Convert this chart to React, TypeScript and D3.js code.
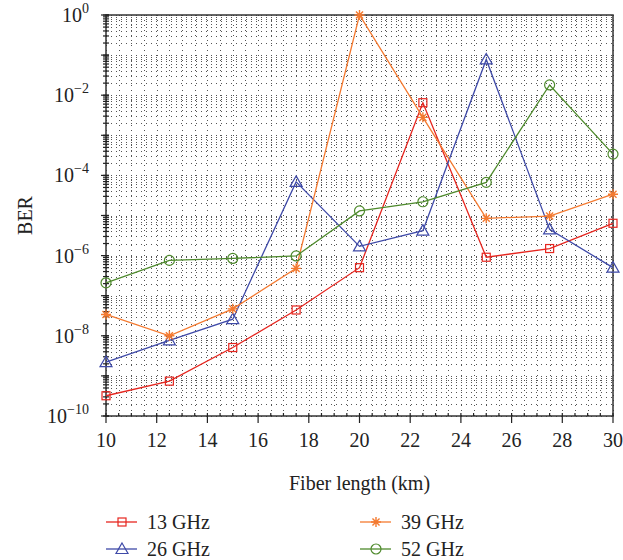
import React from 'react';
import * as d3 from 'd3';

// Data
const fiberKm = [10, 12.5, 15, 17.5, 20, 22.5, 25, 27.5, 30];
const ber13 = [3.2e-10, 7.4e-10, 5.1e-9, 4.4e-8, 5e-7, 6.5e-3, 9.1e-7, 1.5e-6, 6.4e-6];
const ber26 = [2.2e-9, 7.7e-9, 2.6e-8, 6.9e-5, 1.7e-6, 4.2e-6, 7.8e-2, 4.5e-6, 5e-7];
const ber39 = [3.4e-8, 1e-8, 4.7e-8, 4.8e-7, 1, 2.8e-3, 8.5e-6, 9.7e-6, 3.4e-5];
const ber52 = [2.1e-7, 7.6e-7, 8.5e-7, 9.8e-7, 1.3e-5, 2.2e-5, 6.7e-5, 1.8e-2, 3.4e-4];
const xTicks = [10, 12, 14, 16, 18, 20, 22, 24, 26, 28, 30];
const yExponents = [0, -2, -4, -6, -8, -10];

type Marker = 'square' | 'triangle' | 'star' | 'circle';
const series: { name: string; values: number[]; color: string; marker: Marker }[] = [
  { name: '13 GHz', values: ber13, color: '#e6261f', marker: 'square' },
  { name: '26 GHz', values: ber26, color: '#3f4aa8', marker: 'triangle' },
  { name: '39 GHz', values: ber39, color: '#f47a30', marker: 'star' },
  { name: '52 GHz', values: ber52, color: '#4e8a2c', marker: 'circle' },
];

const W = 623;
const H = 560;
const margin = { left: 106, right: 10, top: 15, bottom: 144 };
const font = '"Liberation Serif", "DejaVu Serif", serif';

const MarkerShape: React.FC<{ type: Marker; x: number; y: number; color: string }> = ({ type, x, y, color }) => {
  const common = { fill: 'none', stroke: color, strokeWidth: 1.2 };
  if (type === 'square') return <rect x={x - 4} y={y - 4} width={8} height={8} {...common} />;
  if (type === 'circle') return <circle cx={x} cy={y} r={5} {...common} />;
  if (type === 'triangle') {
    const s = 6;
    return <path d={`M${x},${y - s}L${x + s},${y + s * 0.75}L${x - s},${y + s * 0.75}Z`} {...common} />;
  }
  const r = 5;
  const d = [0, 45, 90, 135]
    .map(a => {
      const t = (a * Math.PI) / 180;
      return `M${x - r * Math.cos(t)},${y - r * Math.sin(t)}L${x + r * Math.cos(t)},${y + r * Math.sin(t)}`;
    })
    .join('');
  return <path d={d} stroke={color} strokeWidth={1.4} fill="none" />;
};

const App: React.FC = () => {
  const x = d3.scaleLinear().domain([10, 30]).range([margin.left, W - margin.right]);
  const y = d3.scaleLog().domain([1e-10, 1]).range([H - margin.bottom, margin.top]);

  const [x0, x1] = x.range();
  const [y0, y1] = y.range();

  const minorX = d3.range(10, 30.01, 0.5);
  const minorY: number[] = [];
  for (let e = -10; e < 0; e++) for (let m = 1; m < 10; m++) minorY.push(m * Math.pow(10, e));
  minorY.push(1);

  const line = d3
    .line<number>()
    .x((_, i) => x(fiberKm[i]))
    .y(d => y(d));

  return (
    <svg width={W} height={H} style={{ display: 'block', position: 'absolute', left: 0, top: 0 }} fontFamily={font}>
      <rect width={W} height={H} fill="#fff" />
      {/* grid */}
      <g stroke="#555" strokeWidth={1} strokeDasharray="1 4" shapeRendering="crispEdges">
        {minorX.map(v => (
          <line key={'gx' + v} x1={Math.round(x(v))} x2={Math.round(x(v))} y1={y0} y2={y1} />
        ))}
        {minorY.map(v => (
          <line key={'gy' + v} x1={x0} x2={x1} y1={Math.round(y(v))} y2={Math.round(y(v))} />
        ))}
      </g>
      {/* frame */}
      <rect x={x0} y={y1} width={x1 - x0} height={y0 - y1} fill="none" stroke="#333" strokeWidth={1.5} />
      {/* ticks */}
      <g stroke="#222" strokeWidth={1.2}>
        {minorX.map(v => (
          <line key={'tx' + v} x1={x(v)} x2={x(v)} y1={y0} y2={y0 - 3} />
        ))}
        {xTicks.map(v => (
          <line key={'TX' + v} x1={x(v)} x2={x(v)} y1={y0} y2={y0 + 7} />
        ))}
        {minorY.map(v => (
          <line key={'ty' + v} x1={x0 - 3} x2={x0 + 3} y1={y(v)} y2={y(v)} />
        ))}
        {d3.range(-10, 1).map(e => (
          <line key={'TY' + e} x1={x0 - 5} x2={x0 + 3} y1={y(Math.pow(10, e))} y2={y(Math.pow(10, e))} />
        ))}
      </g>
      <g fontSize={20} fill="#222">
        {xTicks.map(v => (
          <text key={'lx' + v} x={x(v)} y={y0 + 31} textAnchor="middle">
            {v}
          </text>
        ))}
        {yExponents.map(e => (
          <text key={'ly' + e} x={x0 - 17} y={y(Math.pow(10, e)) + 7} textAnchor="end">
            10
            <tspan fontSize={14} dy={-9}>
              {e === 0 ? '0' : '\u2212' + -e}
            </tspan>
          </text>
        ))}
        <text x={(x0 + x1) / 2} y={y0 + 74} textAnchor="middle">
          Fiber length (km)
        </text>
        <text transform={`translate(32,${(y0 + y1) / 2}) rotate(-90)`} textAnchor="middle">
          BER
        </text>
      </g>
      {/* series */}
      {series.map(s => (
        <g key={s.name}>
          <path d={line(s.values) ?? ''} fill="none" stroke={s.color} strokeWidth={1.3} />
          {s.values.map((v, i) => (
            <MarkerShape key={i} type={s.marker} x={x(fiberKm[i])} y={y(v)} color={s.color} />
          ))}
        </g>
      ))}
      {/* legend */}
      <g fontSize={20} fill="#222">
        {series.map((s, i) => {
          const lx = i < 2 ? 106 : 360;
          const ly = i % 2 === 0 ? 522 : 549;
          return (
            <g key={'lg' + s.name}>
              <line x1={lx} x2={lx + 31} y1={ly} y2={ly} stroke={s.color} strokeWidth={1.3} />
              <MarkerShape type={s.marker} x={lx + 16} y={ly} color={s.color} />
              <text x={lx + 41} y={ly + 7}>
                {s.name}
              </text>
            </g>
          );
        })}
      </g>
    </svg>
  );
};

export default App;
